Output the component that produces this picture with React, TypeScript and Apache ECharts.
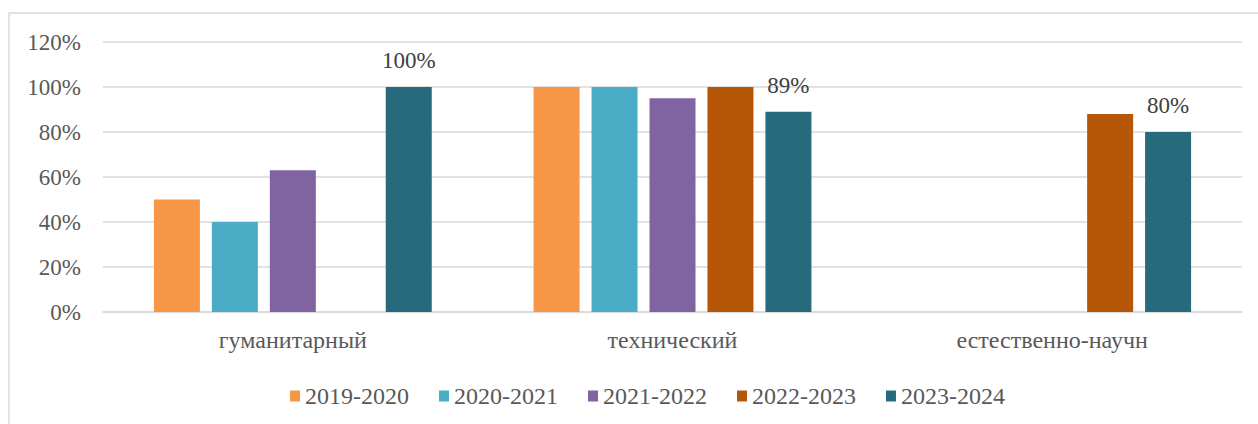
import React, { useEffect, useRef } from "react";
import * as echarts from "echarts";

const categories = ["гуманитарный", "технический", "естественно-научн"];
const seriesNames = ["2019-2020", "2020-2021", "2021-2022", "2022-2023", "2023-2024"];
const s2019 = [50, 100, null];
const s2020 = [40, 100, null];
const s2021 = [63, 95, null];
const s2022 = [null, 100, 88];
const s2023 = [100, 89, 80];
const yTicks = [0, 20, 40, 60, 80, 100, 120];
const colors = ["#F79646", "#4BACC6", "#8064A2", "#B65708", "#276A7C"];

const FONT = "'Liberation Serif'";

export default function App() {
  const ref = useRef<HTMLDivElement>(null);
  useEffect(() => {
    if (!ref.current) return;
    const chart = echarts.init(ref.current, null, { renderer: "svg" });
    const values = [s2019, s2020, s2021, s2022, s2023];
    chart.setOption({
      animation: false,
      backgroundColor: "#ffffff",
      textStyle: { fontFamily: FONT, fontSize: 22 },
      graphic: [
        {
          type: "rect",
          shape: { x: 9, y: 13, width: 1300, height: 450 },
          style: { fill: "none", stroke: "#D9D9D9", lineWidth: 1.5 },
          silent: true,
        },
      ],
      grid: { left: 103, right: 16, top: 42, bottom: 112, containLabel: false },
      legend: {
        data: seriesNames,
        left: 285,
        top: 379,
        itemWidth: 10,
        itemHeight: 11,
        itemGap: 30,
        icon: "rect",
        textStyle: { fontFamily: FONT, fontSize: 24, color: "#595959" },
      },
      xAxis: {
        type: "category",
        data: categories,
        axisLine: { show: true, lineStyle: { color: "#D9D9D9", width: 1.5 } },
        axisTick: { show: false },
        axisLabel: {
          margin: 16,
          textStyle: { fontFamily: FONT, fontSize: 24, color: "#595959" },
          fontFamily: FONT,
          fontSize: 24,
          color: "#595959",
        },
      },
      yAxis: {
        type: "value",
        min: yTicks[0],
        max: yTicks[yTicks.length - 1],
        interval: 20,
        axisLine: { show: false },
        axisTick: { show: false },
        splitLine: { lineStyle: { color: "#D9D9D9", width: 1.5 } },
        axisLabel: {
          fontFamily: FONT,
          fontSize: 23,
          color: "#595959",
          margin: 22,
          formatter: (v: number) => v + "%",
        },
      },
      series: seriesNames.map((name, i) => ({
        name,
        type: "bar",
        data: values[i],
        barWidth: 46,
        barGap: "26%",
        itemStyle: { color: colors[i] },
        label:
          i === 4
            ? {
                show: true,
                position: "top",
                distance: 15,
                fontFamily: FONT,
                fontSize: 23,
                color: "#404040",
                formatter: (p: any) => p.value + "%",
              }
            : { show: false },
      })),
    });
    return () => chart.dispose();
  }, []);
  return (
    <div
      ref={ref}
      style={{ position: "absolute", left: 0, top: 0, width: 1258, height: 424 }}
    />
  );
}
